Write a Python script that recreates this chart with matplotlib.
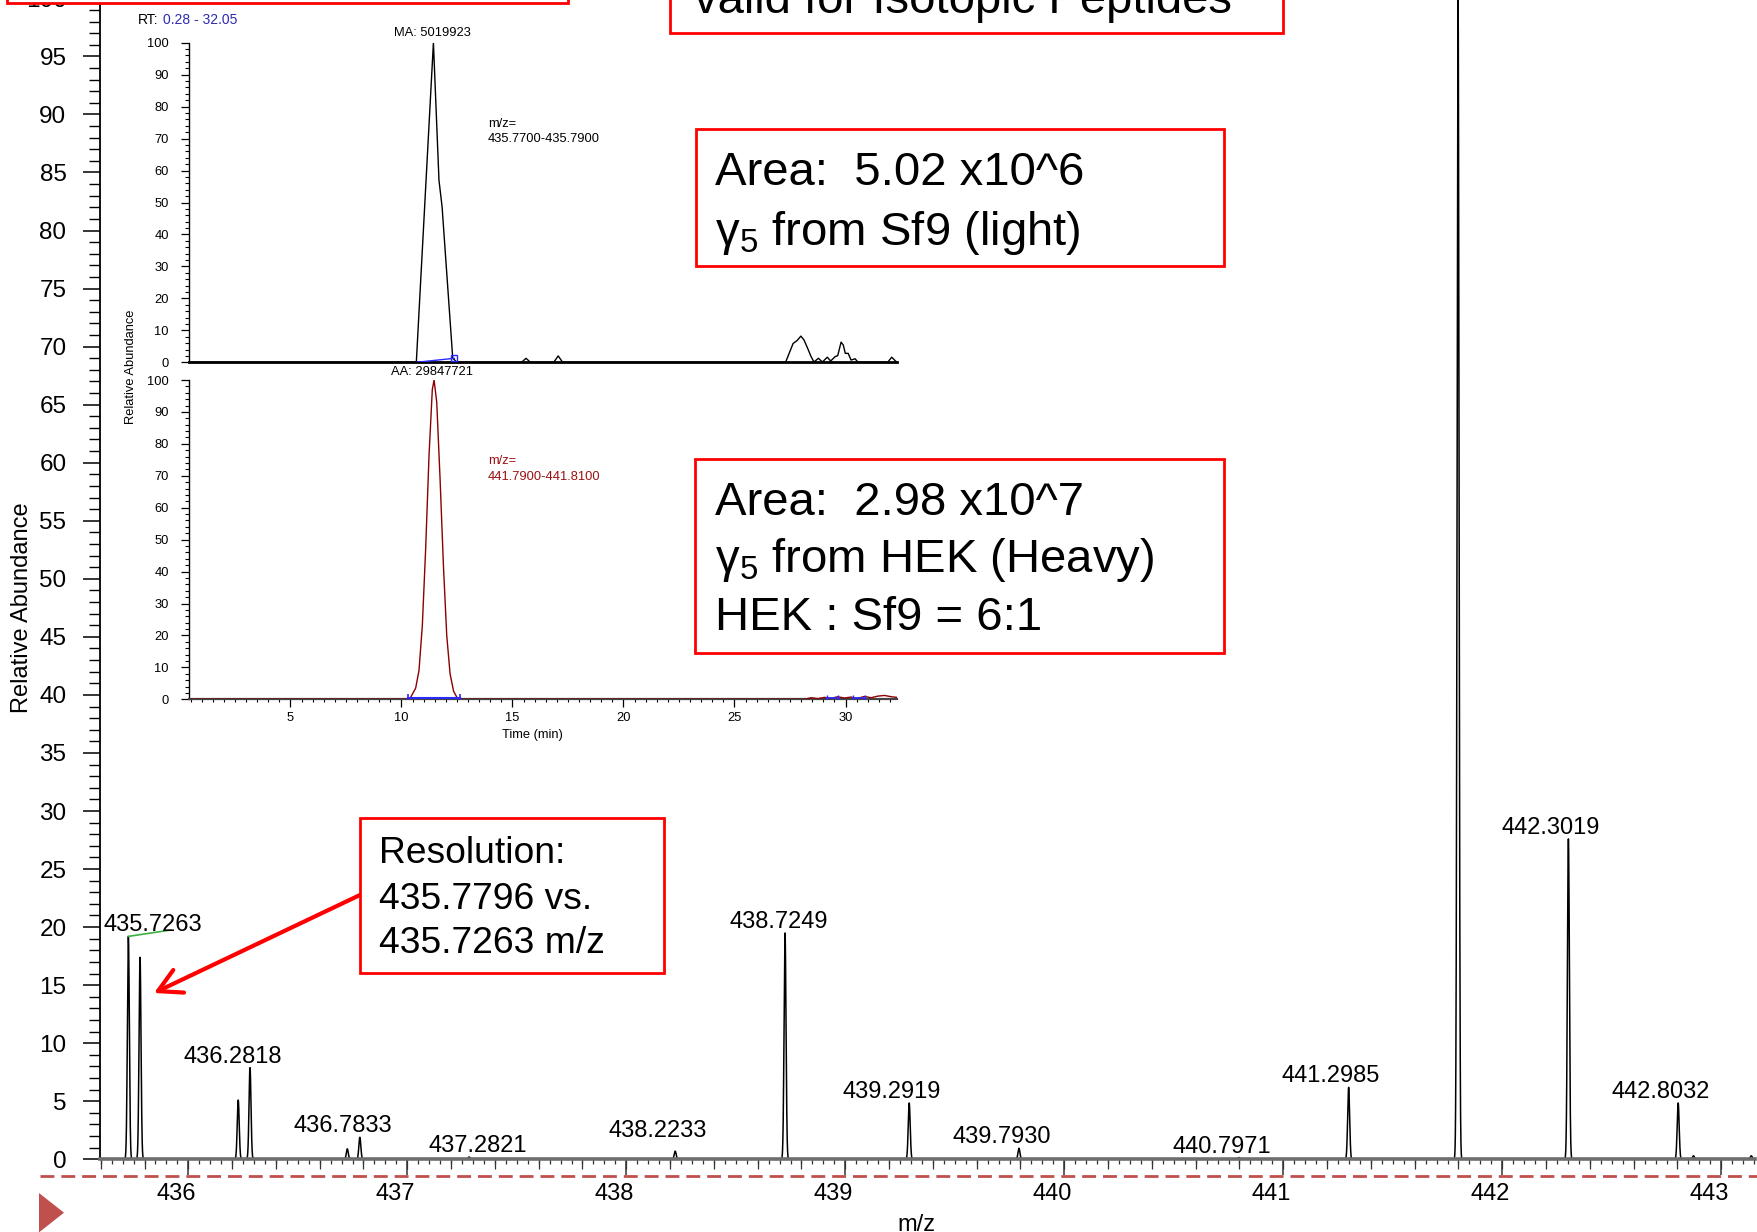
import numpy as np
import matplotlib
matplotlib.use("Agg")
import matplotlib.pyplot as plt
from matplotlib.ticker import MultipleLocator, FixedLocator
from matplotlib.transforms import ScaledTranslation
from matplotlib.patches import Rectangle, Polygon
from matplotlib.lines import Line2D

plt.rcParams["font.family"] = ["Liberation Sans", "DejaVu Sans"]
plt.rcParams["mathtext.fontset"] = "custom"
plt.rcParams["mathtext.rm"] = "Liberation Sans"
plt.rcParams["mathtext.it"] = "Liberation Sans:italic"
plt.rcParams["mathtext.bf"] = "Liberation Sans:bold"

# ---------------- data ----------------
# labelled centroids of the MS1 spectrum (m/z, relative abundance %)
peak_mz = [435.7263, 436.2818, 436.7833, 437.2821, 438.2233, 438.7249,
           439.2919, 439.7930, 440.7971, 441.2985, 442.3019, 442.8032]
peak_int = [19.2, 7.9, 1.9, 0.2, 0.7, 19.5, 4.85, 0.95, 0.15, 6.2, 27.6, 4.85]

# unlabelled centroids (base peak label lies above the plotted range)
other_mz = [435.7796, 436.2280, 436.7260, 441.7981, 442.8730, 443.1370]
other_int = [17.4, 5.1, 0.9, 100.0, 0.3, 0.3]

mz_ticks = [436, 437, 438, 439, 440, 441, 442, 443]
abund_ticks = list(range(0, 101, 5))

# extracted ion chromatogram, light channel (m/z 435.77-435.79)
t_light = [0.45, 10.49, 10.67, 11.44, 11.69, 11.83, 12.31, 12.50, 15.41, 15.61,
           15.81, 16.86, 17.06, 17.26, 27.30, 27.64, 27.82, 27.99, 28.13, 28.33,
           28.45, 28.58, 28.78, 28.96, 29.18, 29.33, 29.53, 29.65, 29.80, 29.90,
           29.99, 30.12, 30.25, 30.43, 30.57, 31.90, 32.08, 32.31]
v_light = [0, 0, 0, 100, 57, 48.7, 1.3, 0, 0, 1.25,
           0, 0, 2.0, 0, 0, 5.9, 6.8, 8.2, 7.0, 3.8,
           1.75, 0.1, 1.25, 0.1, 1.6, 0.4, 1.75, 2.1, 6.3, 5.4,
           2.8, 2.8, 0.7, 1.1, 0, 0, 1.6, 0]

# extracted ion chromatogram, heavy channel (m/z 441.79-441.81)
t_heavy = [0.45, 10.19, 10.39, 10.64, 10.79, 10.94, 11.09, 11.24, 11.39, 11.47,
           11.59, 11.74, 11.89, 12.04, 12.19, 12.35, 12.50, 12.65, 12.80, 28.15,
           28.45, 28.75, 29.05, 29.35, 29.65, 29.95, 30.25, 30.55, 30.85, 31.15,
           31.46, 31.76, 32.06, 32.31]
v_heavy = [0, 0, 0.3, 3.5, 9, 23, 47, 76, 97, 100,
           93, 69, 42, 20, 8, 2.5, 0.6, 0.1, 0, 0,
           0.5, 0.2, 0.6, 0.3, 0.8, 0.4, 0.7, 0.3, 0.9, 0.5,
           1.0, 1.2, 0.8, 0.6]
rt_ticks = [5, 10, 15, 20, 25, 30]

# ---------------- figure ----------------
W, H = 1758, 1232
fig = plt.figure(figsize=(W / 100, H / 100), dpi=100)


def fxy(px, py):
    """pixel position measured from the top-left corner -> figure fraction"""
    return px / W, 1 - py / H


def axes_rect(x0, y_top, x1, y_bot):
    return [x0 / W, 1 - y_bot / H, (x1 - x0) / W, (y_bot - y_top) / H]


# ---- main spectrum ----
ax = fig.add_axes(axes_rect(100, -1.7, 1755, 1159.3))
ax.set_facecolor("none")
xlo, xhi = 435.5968, 443.154
ax.set_xlim(xlo, xhi)
ax.set_ylim(0, 100)

grid = np.arange(xlo, xhi, 0.0004)
profile = np.zeros_like(grid)
for mz, h in zip(peak_mz + other_mz, peak_int + other_int):
    profile += h * np.exp(-0.5 * ((grid - mz) / 0.0045) ** 2)
ax.plot(grid, profile, color="black", lw=1.1, zorder=2)

for s in ("top", "right"):
    ax.spines[s].set_visible(False)
ax.spines["left"].set_linewidth(1.3)
ax.spines["bottom"].set_color("#6e6e6e")
ax.spines["bottom"].set_linewidth(2.6)

ax.set_yticks(abund_ticks)
ax.yaxis.set_minor_locator(MultipleLocator(1))
ax.tick_params(axis="y", which="major", length=12.2, width=1.1, pad=12,
               labelsize=17.5, colors="black")
ax.tick_params(axis="y", which="minor", length=7.9, width=1.0)

ax.set_xticks(mz_ticks)
ax.set_xticklabels([str(v) for v in mz_ticks])
ax.xaxis.set_minor_locator(MultipleLocator(0.05))
ax.tick_params(axis="x", which="major", length=11.5, width=1.1, pad=5.5,
               labelsize=17, color="#333333")
ax.tick_params(axis="x", which="minor", length=3.6, width=0.9, color="#333333")
shift = ScaledTranslation(-12 / 100, 0, fig.dpi_scale_trans)
for lab in ax.get_xticklabels():
    lab.set_transform(lab.get_transform() + shift)

sec = ax.secondary_xaxis("bottom")
sec.xaxis.set_major_locator(FixedLocator(np.round(np.arange(435.6, 443.2, 0.2), 1)))
sec.tick_params(axis="x", length=7.2, width=0.9, color="#333333", labelbottom=False)
sec.spines["bottom"].set_visible(False)

# peak labels sit a little left of and above each apex; a few are nudged
label_nudge = {"437.2821": (26.5, 0), "438.7249": (11, 0), "438.2233": (0, 9)}
labels = []
for mz, h in zip(peak_mz, peak_int):
    txt = f"{mz:.4f}"
    ndx, ndy = label_nudge.get(txt, (0, 0))
    t = ax.annotate(txt, xy=(mz, h), xytext=(-17.5 + ndx, 5 + ndy),
                    textcoords="offset pixels", ha="center", va="baseline",
                    fontsize=17, zorder=4)
    labels.append(t)

# short green marker at the first labelled apex
ax.plot([peak_mz[0], 435.921], [peak_int[0], 19.75], color="#3cb043", lw=1.2, zorder=3)

fig.text(*fxy(22, 607.5), "Relative Abundance", rotation=90, fontsize=17,
         ha="center", va="center")
fig.text(*fxy(916, 1225), "m/z", fontsize=17, ha="center", va="center")

# keep labels inside the plotting area
fig.canvas.draw()
renderer = fig.canvas.get_renderer()
ax_x0 = ax.get_window_extent(renderer).x0
for t in labels:
    bb = t.get_window_extent(renderer)
    if bb.x0 < ax_x0 + 3:
        dx, dy = t.xyann
        t.xyann = (dx + (ax_x0 + 3 - bb.x0), dy)

# ---- chromatogram insets ----
inset_fs = 9.3


def style_inset(a):
    a.set_facecolor("none")
    a.set_xlim(0.45, 32.31)
    a.set_ylim(0, 100)
    for s in ("top", "right"):
        a.spines[s].set_visible(False)
    a.spines["left"].set_linewidth(1.0)
    a.set_yticks(range(0, 101, 10))
    a.yaxis.set_minor_locator(MultipleLocator(2))
    a.tick_params(axis="y", which="major", length=5.8, width=0.9, pad=9,
                  labelsize=inset_fs)
    a.tick_params(axis="y", which="minor", length=2.9, width=0.8)


axL = fig.add_axes(axes_rect(189.4, 42.7, 896.8, 362.3))
style_inset(axL)
axL.spines["bottom"].set_linewidth(2.0)
axL.tick_params(axis="x", which="both", bottom=False, labelbottom=False)
axL.plot(t_light, v_light, color="black", lw=1.0, zorder=3)
axL.plot([10.67, 12.38], [0, 1.25], color="#2a2aff", lw=1.0, zorder=4)
axL.plot([12.38], [1.25], marker="s", ms=5, mfc="none", mec="#2a2aff", mew=1.0, zorder=4)

axH = fig.add_axes(axes_rect(189.4, 380, 896.8, 699.3))
style_inset(axH)
axH.spines["bottom"].set_linewidth(1.6)
axH.spines["bottom"].set_color("#444444")
axH.set_xticks(rt_ticks)
axH.xaxis.set_minor_locator(MultipleLocator(0.5))
axH.tick_params(axis="x", which="major", length=5.8, width=0.9, pad=3.5,
                labelsize=inset_fs)
axH.tick_params(axis="x", which="minor", length=2.5, width=0.8)
axH.plot(t_heavy, v_heavy, color="#8b0000", lw=1.0, zorder=3)
axH.plot([10.28, 12.64], [0.3, 0.3], color="#2a2aff", lw=1.5, zorder=4,
         marker="|", ms=6, mew=1.2)
axH.plot([29.15, 29.65], [0.5, 0.5], color="#2a2aff", lw=1.2, zorder=4,
         marker="|", ms=5, mew=1.0)
axH.plot([30.32, 30.89], [0.5, 0.5], color="#2a2aff", lw=1.2, zorder=4,
         marker="|", ms=5, mew=1.0)

fig.text(*fxy(131, 366.6), "Relative Abundance", rotation=90, fontsize=inset_fs,
         ha="center", va="center")
fig.text(*fxy(532.5, 735), "Time (min)", fontsize=inset_fs, ha="center", va="center")
fig.text(*fxy(138.3, 20), "RT:", fontsize=10, ha="left", va="center")
fig.text(*fxy(163.3, 20), "0.28 - 32.05", fontsize=10, ha="left", va="center",
         color="#2b2bb0")
fig.text(*fxy(432.5, 33.3), "MA: 5019923", fontsize=inset_fs, ha="center", va="center")
fig.text(*fxy(431.7, 371.5), "AA: 29847721", fontsize=inset_fs, ha="center", va="center")
fig.text(*fxy(488, 124), "m/z=", fontsize=inset_fs, ha="left", va="center")
fig.text(*fxy(488, 139), "435.7700-435.7900", fontsize=inset_fs, ha="left", va="center")
fig.text(*fxy(488, 461), "m/z=", fontsize=inset_fs, ha="left", va="center",
         color="#9b1010")
fig.text(*fxy(488, 476.7), "441.7900-441.8100", fontsize=inset_fs, ha="left",
         va="center", color="#9b1010")

# ---- annotation boxes ----
RED = "#ff0000"


def red_box(x0, y0, x1, y1):
    r = Rectangle(fxy(x0, y1), (x1 - x0) / W, (y1 - y0) / H,
                  transform=fig.transFigure, facecolor="white", edgecolor=RED,
                  lw=2.0, zorder=10)
    fig.add_artist(r)


def box_text(px, py, s, size):
    fig.text(*fxy(px, py), s, fontsize=size, ha="left", va="baseline", zorder=11)


red_box(7, -60, 568, 2.7)
red_box(670, -60, 1283, 33.3)
box_text(694, 12.7, "valid for Isotopic Peptides", 34)

red_box(696, 129, 1224, 265.7)
box_text(715, 185, "Area:  5.02 x10^6", 34)
box_text(715, 245, "γ$_{5}$ from Sf9 (light)", 34)

red_box(695, 458.6, 1224, 652.5)
box_text(715, 515, "Area:  2.98 x10^7", 34)
box_text(715, 571.7, "γ$_{5}$ from HEK (Heavy)", 34)
box_text(715, 630, "HEK : Sf9 = 6:1", 34)

red_box(360, 817.7, 664, 972.7)
box_text(379, 863, "Resolution:", 26.8)
box_text(379, 909, "435.7796 vs.", 26.8)
box_text(379, 953, "435.7263 m/z", 26.8)

ax.annotate("", xy=(154, H - 993), xycoords="figure pixels",
            xytext=(360, H - 895), textcoords="figure pixels",
            arrowprops=dict(arrowstyle="->,head_length=0.55,head_width=0.3",
                            color=RED, lw=3, mutation_scale=30,
                            shrinkA=0, shrinkB=0), zorder=12)

# ---- slide decorations ----
fig.add_artist(Line2D([40 / W, 1.0], [1 - 1176 / H] * 2, transform=fig.transFigure,
                      color="#c0504d", lw=2, linestyle=(0, (5, 2.5))))
fig.add_artist(Polygon([fxy(39, 1193), fxy(39, 1232.4), fxy(64, 1212.7)],
                       closed=True, transform=fig.transFigure,
                       facecolor="#c0504d", edgecolor="none"))

fig.savefig("out.png", dpi=100)
